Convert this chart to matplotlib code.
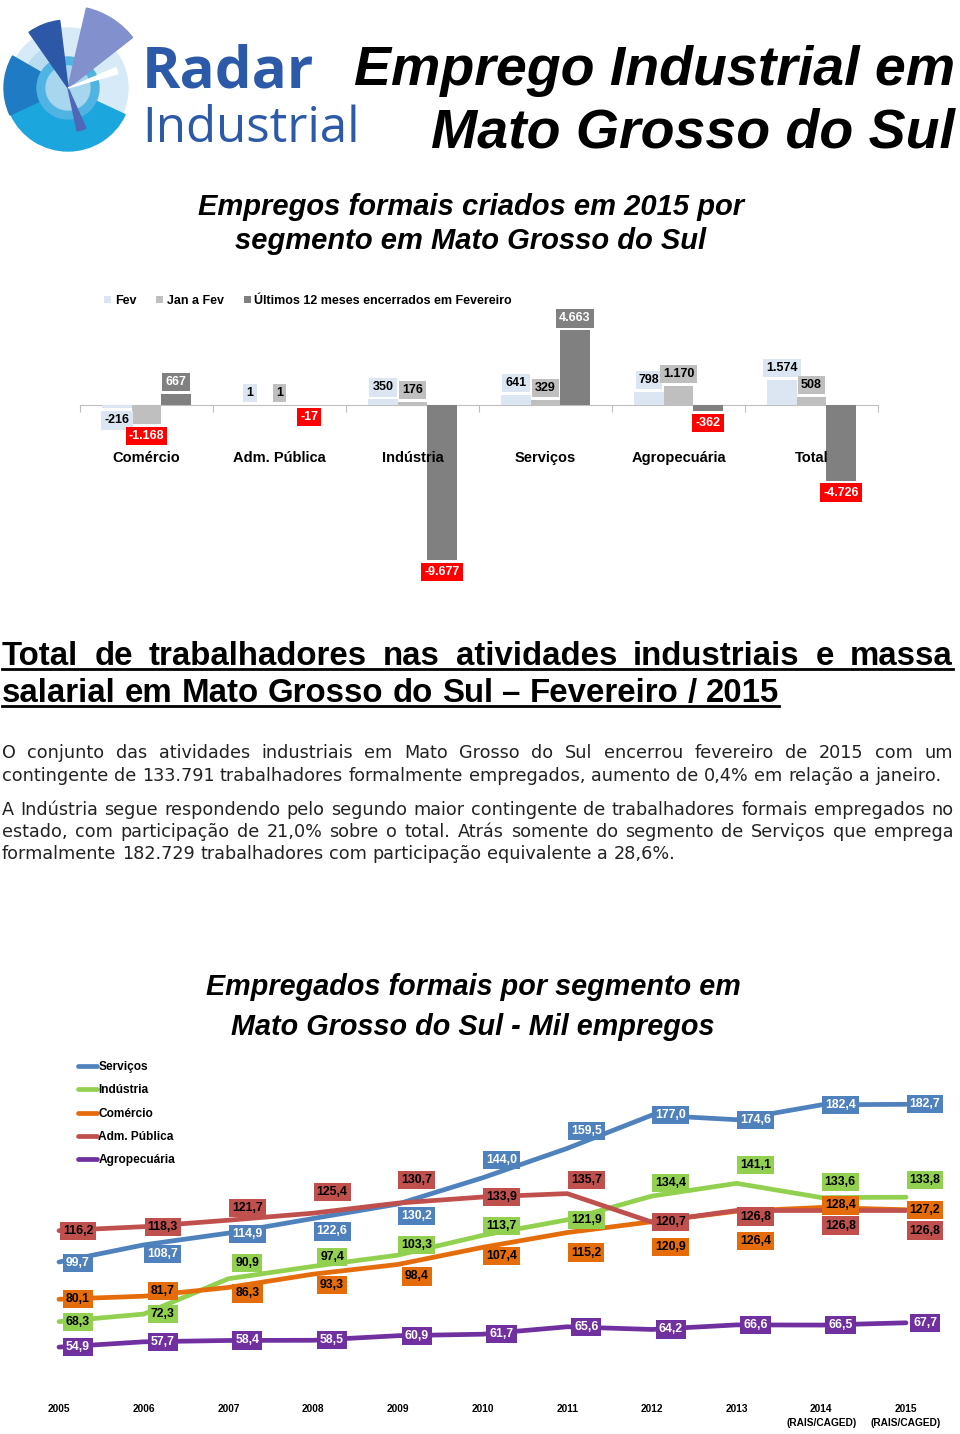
import matplotlib
matplotlib.use('Agg')
import matplotlib.pyplot as plt
from matplotlib.patches import Wedge, Circle
from matplotlib.lines import Line2D
from matplotlib.transforms import blended_transform_factory

### dados - empregos criados em 2015
segmentos = ['Comércio', 'Adm. Pública', 'Indústria', 'Serviços', 'Agropecuária', 'Total']
fev = [-216, 1, 350, 641, 798, 1574]
jan_fev = [-1168, 1, 176, 329, 1170, 508]
ult_12m = [667, -17, -9677, 4663, -362, -4726]
serie_barras = ['Fev', 'Jan a Fev', 'Últimos 12 meses encerrados em Fevereiro']

### dados - empregados formais por segmento (mil)
anos = ['2005', '2006', '2007', '2008', '2009', '2010', '2011', '2012', '2013',
        '2014\n(RAIS/CAGED)', '2015\n(RAIS/CAGED)']
servicos = [99.7, 108.7, 114.9, 122.6, 130.2, 144.0, 159.5, 177.0, 174.6, 182.4, 182.7]
industria = [68.3, 72.3, 90.9, 97.4, 103.3, 113.7, 121.9, 134.4, 141.1, 133.6, 133.8]
comercio = [80.1, 81.7, 86.3, 93.3, 98.4, 107.4, 115.2, 120.9, 126.4, 128.4, 127.2]
adm_publica = [116.2, 118.3, 121.7, 125.4, 130.7, 133.9, 135.7, 120.7, 126.8, 126.8, 126.8]
agropecuaria = [54.9, 57.7, 58.4, 58.5, 60.9, 61.7, 65.6, 64.2, 66.6, 66.5, 67.7]

# deslocamento vertical dos rotulos (px, positivo = para baixo)
dy_serv = [1, 9, 1, 13, 12, -18, -17, 0, 0, 0, 0]
dy_ind = [0, 0, -16, -9, -10, -9, 0, -13, -18, -16, -17]
dy_com = [0, -5, 6, 11, 12, 9, 20, 25, 30, -2, 0]
dy_adm = [0, 0, -12, -21, -23, 0, -14, 0, 6, 15, 20]
dy_agro = [0] * 11

W, H = 960, 1434
fig = plt.figure(figsize=(W / 100, H / 100), dpi=100)
fig.patch.set_facecolor('white')

ARIAL = ['Liberation Sans', 'DejaVu Sans']


def fx(x):
    return x / W


def fy(y):
    return 1 - y / H


def box(x0, y0, x1, y1):
    return [x0 / W, 1 - y1 / H, (x1 - x0) / W, (y1 - y0) / H]


def text_line(txt, x0, y, x1=None, **kw):
    # one line of text, justified between x0 and x1 when x1 is given
    r = fig.canvas.get_renderer()
    words = txt.split(' ')
    a = fig.text(0, 0, 'a a', **kw)
    b = fig.text(0, 0, 'aa', **kw)
    sp = a.get_window_extent(r).width - b.get_window_extent(r).width
    a.remove()
    b.remove()
    arts = [fig.text(0, fy(y), w, va='baseline', ha='left', **kw) for w in words]
    ws = [t.get_window_extent(r).width for t in arts]
    if x1 is not None:
        sp = (x1 - x0 - sum(ws)) / (len(words) - 1)
    x = x0
    for t, w in zip(arts, ws):
        t.set_x(fx(x))
        x += w + sp
    return x - sp


### logo
axl = fig.add_axes(box(0, 0, 140, 160))
axl.set_xlim(0, 140)
axl.set_ylim(0, 160)
axl.axis('off')
c = (68, 72)
axl.add_patch(Circle(c, 60, color='#d6ebf7'))
axl.add_patch(Wedge(c, 46, 100, 200, color='#b9dcf1'))
axl.add_patch(Wedge(c, 63, 205, 335, color='#1ba6de'))
axl.add_patch(Wedge(c, 64, 150, 205, color='#1f7cc4'))
axl.add_patch(Wedge(c, 31, 0, 360, width=9, color='#4fb4e2'))
axl.add_patch(Circle(c, 22, color='#a8d6ef'))
axl.add_patch(Wedge(c, 82, 38, 77, color='#8291cd'))
axl.add_patch(Wedge(c, 68, 97, 125, color='#2d58a7'))
axl.add_patch(Wedge(c, 44, 282, 294, color='#5066b6'))
axl.add_patch(Wedge(c, 52, 16, 23, color='white'))

fig.text(fx(142), fy(88), 'Radar', fontsize=42, fontweight='bold', color='#2c5aa8',
         family=['Open Sans', 'DejaVu Sans'], va='baseline')
fig.text(fx(142), fy(142), 'Industrial', fontsize=35.5, color='#2c5aa8',
         family=['Open Sans', 'DejaVu Sans'], va='baseline')

### titulos
fig.text(fx(955), fy(85), 'Emprego Industrial em', fontsize=40, fontweight='bold',
         style='italic', family=ARIAL, ha='right', va='baseline')
fig.text(fx(955), fy(148), 'Mato Grosso do Sul', fontsize=40, fontweight='bold',
         style='italic', family=ARIAL, ha='right', va='baseline')
fig.text(fx(471), fy(215), 'Empregos formais criados em 2015 por', fontsize=21,
         fontweight='bold', style='italic', family=ARIAL, ha='center', va='baseline')
fig.text(fx(471), fy(249), 'segmento em Mato Grosso do Sul', fontsize=21,
         fontweight='bold', style='italic', family=ARIAL, ha='center', va='baseline')

### grafico de barras
ax = fig.add_axes(box(80, 290, 878, 590))
ax.set_xlim(-0.5, 5.5)
ax.set_ylim(-11562.5, 7187.5)
for s in ['top', 'right', 'left']:
    ax.spines[s].set_visible(False)
ax.spines['bottom'].set_position(('data', 0))
ax.spines['bottom'].set_color('#bfbfbf')
ax.set_yticks([])
ax.set_xticks([i - 0.5 for i in range(7)])
ax.set_xticklabels([])
ax.tick_params(axis='x', direction='out', length=5, color='#bfbfbf')

cores_barras = ['#dce6f2', '#bfbfbf', '#808080']
bw = 0.222
for k, (vals, col) in enumerate(zip([fev, jan_fev, ult_12m], cores_barras)):
    xs = [i + (k - 1) * bw for i in range(len(vals))]
    ax.bar(xs, vals, width=bw, color=col, label=serie_barras[k], zorder=3)
    for xi, v in zip(xs, vals):
        txt = f'{v:,}'.replace(',', '.')
        if k == 0:
            fc, tc = col, 'black'
        elif v < 0:
            fc, tc = '#ff0000', 'white'
        else:
            fc, tc = col, ('white' if k == 2 else 'black')
        off = 12 if v >= 0 else -12
        ax.annotate(txt, (xi, v), xytext=(0, off), textcoords='offset pixels',
                    ha='center', va='center', fontsize=9, fontweight='bold',
                    family=ARIAL, color=tc, zorder=5,
                    bbox=dict(boxstyle='square,pad=0.25', fc=fc, ec='none'))

tr = blended_transform_factory(ax.transData, fig.transFigure)
for i, s in enumerate(segmentos):
    ax.text(i, fy(458), s, transform=tr, ha='center', va='center', fontsize=10.5,
            fontweight='bold', family=ARIAL, zorder=4)

ax.legend(loc='upper left', bbox_to_anchor=(fx(104), fy(295)), bbox_transform=fig.transFigure,
          ncol=3, frameon=False, handlelength=0.55, handleheight=0.55, handletextpad=0.3,
          columnspacing=1.6, borderaxespad=0, borderpad=0,
          prop={'family': ARIAL, 'weight': 'bold', 'size': 9})

### texto
hd = dict(fontsize=23.8, fontweight='bold', family=ARIAL, color='black')
e1 = text_line('Total de trabalhadores nas atividades industriais e massa', 2, 665, 953, **hd)
e2 = text_line('salarial em Mato Grosso do Sul – Fevereiro / 2015', 2, 702, **hd)
fig.add_artist(Line2D([fx(2), fx(e1)], [fy(669), fy(669)], lw=2, color='black'))
fig.add_artist(Line2D([fx(2), fx(e2)], [fy(706), fy(706)], lw=2, color='black'))

pd_ = dict(fontsize=12.7, family=['DejaVu Sans'], color='#222222')
text_line('O conjunto das atividades industriais em Mato Grosso do Sul encerrou fevereiro de 2015 com um',
          2, 758, 953, **pd_)
text_line('contingente de 133.791 trabalhadores formalmente empregados, aumento de 0,4% em relação a janeiro.',
          2, 781, **pd_)
text_line('A Indústria segue respondendo pelo segundo maior contingente de trabalhadores formais empregados no',
          2, 815, 953, **pd_)
text_line('estado, com participação de 21,0% sobre o total. Atrás somente do segmento de Serviços que emprega',
          2, 837, 953, **pd_)
text_line('formalmente 182.729 trabalhadores com participação equivalente a 28,6%.',
          2, 859, **pd_)

### grafico de linhas
fig.text(fx(473), fy(995), 'Empregados formais por segmento em', fontsize=20.7,
         fontweight='bold', style='italic', family=ARIAL, ha='center', va='baseline')
fig.text(fx(473), fy(1035), 'Mato Grosso do Sul - Mil empregos', fontsize=20.7,
         fontweight='bold', style='italic', family=ARIAL, ha='center', va='baseline')

ax2 = fig.add_axes(box(40, 1050, 945, 1400))
ax2.set_xlim((40 - 59) / 84.7, (945 - 59) / 84.7)
ax2.set_ylim(99.7 - (1400 - 1262) / 1.9, 99.7 + (1262 - 1050) / 1.9)
for s in ax2.spines.values():
    s.set_visible(False)
ax2.set_yticks([])
ax2.set_xticks(range(len(anos)))
ax2.set_xticklabels(anos, fontsize=7.3, fontweight='bold', family=ARIAL, va='top',
                    linespacing=1.45)
ax2.tick_params(axis='x', length=0, pad=3)

series = [
    (servicos, 'Serviços', '#4f81bd', 'white', dy_serv),
    (industria, 'Indústria', '#92d050', 'black', dy_ind),
    (comercio, 'Comércio', '#e46c0a', 'black', dy_com),
    (adm_publica, 'Adm. Pública', '#c0504d', 'black', dy_adm),
    (agropecuaria, 'Agropecuária', '#7030a0', 'white', dy_agro),
]
xs = list(range(len(anos)))
for vals, nome, col, tc, dys in series:
    ax2.plot(xs, vals, color=col, lw=3.4, solid_capstyle='round', label=nome, zorder=2)
for vals, nome, col, tc, dys in series:
    for i, (v, dy) in enumerate(zip(vals, dys)):
        ax2.annotate(f'{v:.1f}'.replace('.', ','), (i, v), xytext=(19, -dy),
                     textcoords='offset pixels', ha='center', va='center', fontsize=8.8,
                     fontweight='bold', family=ARIAL, color=tc, zorder=5,
                     bbox=dict(boxstyle='square,pad=0.25', fc=col, ec='none'))

ax2.legend(loc='upper left', bbox_to_anchor=(fx(78), fy(1061)), bbox_transform=fig.transFigure,
           frameon=False, handlelength=1.6, handletextpad=0.1, labelspacing=0.95,
           borderaxespad=0, borderpad=0,
           prop={'family': ARIAL, 'weight': 'bold', 'size': 8.6})

fig.savefig('out.png', dpi=100, facecolor='white')
